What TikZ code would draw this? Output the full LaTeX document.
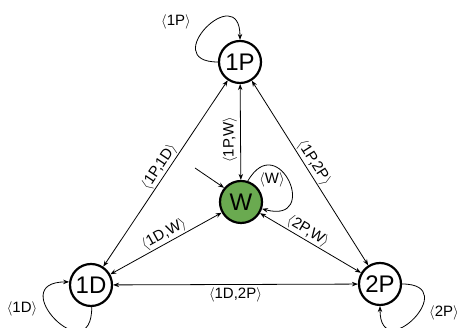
\documentclass[tikz,border=0pt]{standalone}
\usepackage{fontspec}
\setmainfont{Liberation Sans}
\usetikzlibrary{arrows.meta}
\definecolor{wgreen}{RGB}{106,170,80}
\newcommand{\albl}[1]{$\Bigl\langle$#1$\Bigr\rangle$}
\begin{document}
\begin{tikzpicture}[x=1pt,y=1pt,
  state/.style={circle,draw,line width=2.2pt,minimum size=42pt,inner sep=0pt,font=\fontsize{24}{26}\selectfont,fill=white},
  edge/.style={line width=0.8pt,{Stealth[length=6pt,width=4.5pt]}-{Stealth[length=6pt,width=4.5pt]}},
  arr/.style={line width=0.8pt,-{Stealth[length=6pt,width=4.5pt]}},
  elab/.style={font=\fontsize{15}{16}\selectfont,inner sep=1pt}]
\useasboundingbox (0,0) rectangle (461,328);
\node[state] (P1) at (240,266) {1P};
\node[state] (D1) at (91,43) {1D};
\node[state] (P2) at (380,44) {2P};
\node[state,fill=wgreen] (W) at (241,126) {W};
\coordinate (init) at (195,160);
\draw[edge] (D1) -- node[elab,sloped,above,pos=0.51] {\albl{1P,1D}} (P1);
\draw[edge] (P1) -- node[elab,sloped,above,pos=0.47] {\albl{1P,2P}} (P2);
\draw[edge] (D1) -- node[elab,below=1pt] {\albl{1D,2P}} (P2);
\draw[edge] (W) -- node[elab,sloped,above=2pt,allow upside down,pos=0.42] {\albl{1P,W}} (P1);
\draw[edge] (D1) -- node[elab,sloped,above,pos=0.52] {\albl{1D,W}} (W);
\draw[edge] (W) -- node[elab,sloped,above,pos=0.43] {\albl{2P,W}} (P2);
\draw[arr] (init) -- (W.140);
\draw[arr] (P1.180) to[out=180,in=90,looseness=5] (P1.90);
\draw[arr] (D1.-88) to[out=-90,in=180,looseness=5] (D1.172);
\draw[arr] (P2.0) to[out=0,in=-90,looseness=5] (P2.-90);
\draw[arr] (W.72) to[out=60,in=-15,looseness=5] (W.-18);
\node[elab] (lP1) at (176,306) {\albl{1P}};
\node[elab] (lD1) at (22,19) {\albl{1D}};
\node[elab] (lP2) at (444,15) {\albl{2P}};
\node[elab] (lW) at (272,148) {\albl{W}};
\end{tikzpicture}
\end{document}
